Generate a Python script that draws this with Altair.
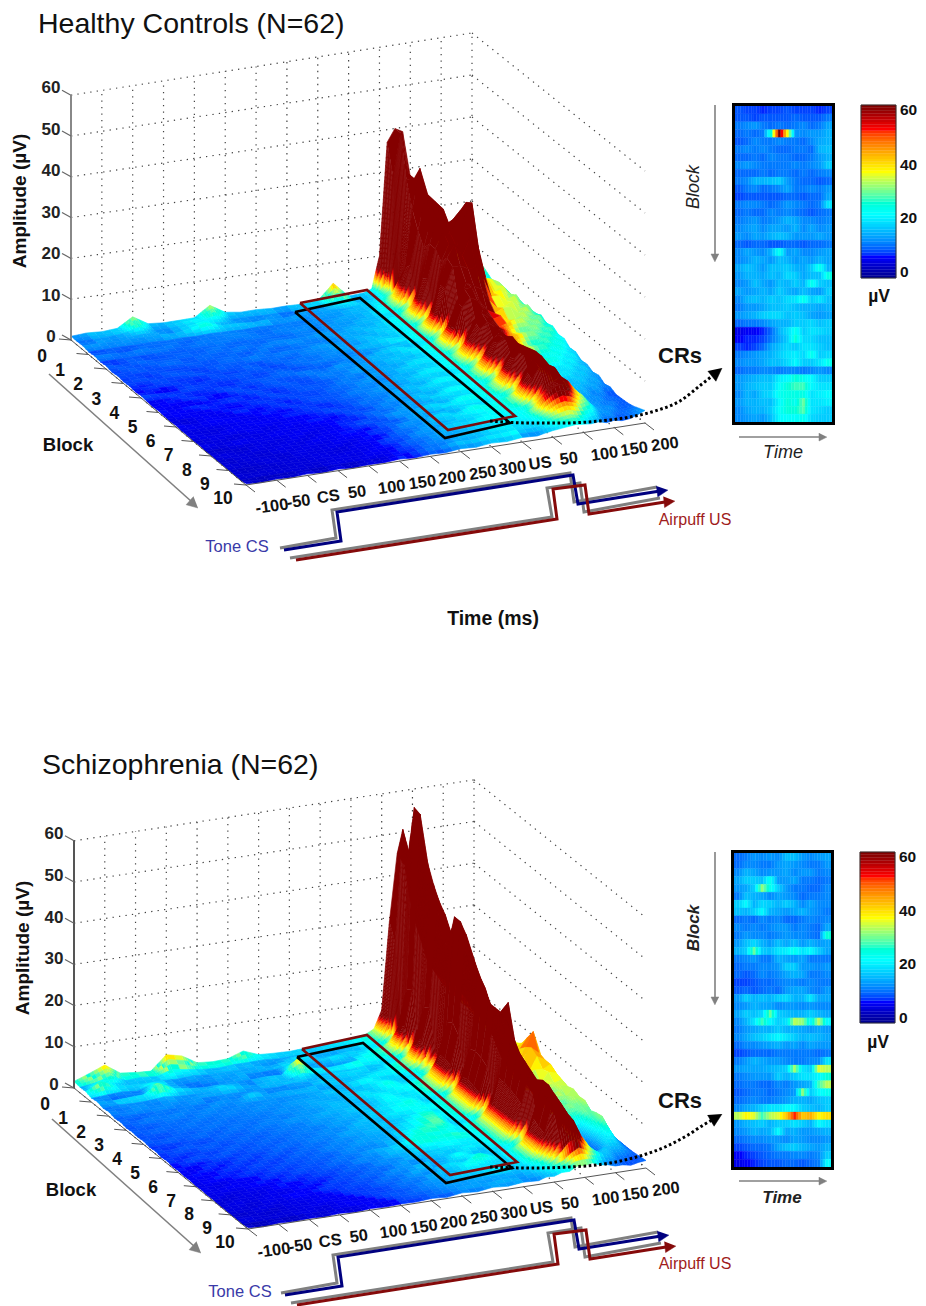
import math
import altair as alt
import pandas as pd

alt.data_transformers.disable_max_rows()

# ---------- values (amplitudes in tenths of a microvolt) ----------
TIME_IDX = [0,.5,1,1.5,2,2.5,3,3.5,4,4.5,5,5.5,6,6.5,7,7.5,8,8.5,9,9.5,9.75,10,10.25,10.5,10.75,11,11.25,11.5,11.75,12,12.25,12.5,12.75,13]
TIME_LABELS = ["-100","-50","CS","50","100","150","200","250","300","US","50","100","150","200"]
BLOCK_LABELS = [str(i) for i in range(11)]
AMP_LABELS = [0,10,20,30,40,50,60]

HC = [
[9,12,10,13,36,14,11,12,13,38,16,11,12,10,11,10,13,50, 14,17,24, 100,370,400,390,280,200,150,120,100,90,90,85,80],
[8,8,9,12,22,9,10,14,18,24,10,11,9,10,8,11,10,26, 13,15,20, 45,300,400,300,240,190,180,130,100,85,80,75,70],
[9,10,8,10,9,11,8,16,24,12,12,9,11,9,12,10,13,12, 16,19,24, 30,60,300,300,250,220,190,150,110,90,75,70,65],
[6,7,8,7,9,7,9,8,10,9,8,10,8,10,9,12,10,15, 14,22,32, 50,100,240,335,270,250,230,180,120,90,70,60,55],
[8,8,6,9,7,9,6,9,8,10,9,7,10,9,11,10,14,12, 17,24,36, 60,120,200,280,240,220,200,160,110,80,60,50,45],
[5,6,7,6,8,6,8,7,9,7,9,8,8,11,9,13,11,16, 15,19,24, 30,45,170,240,220,210,195,150,100,70,60,45,40],
[7,5,8,6,6,8,6,9,7,9,7,10,9,10,13,11,15,13, 18,24,36, 55,110,190,250,230,240,260,190,100,90,85,75,55],
[4,7,5,7,8,5,8,6,8,6,10,7,11,8,10,14,12,17, 16,26,38, 65,120,190,230,220,260,290,190,105,95,80,72,50],
[6,5,6,5,5,7,5,8,7,9,7,9,8,12,11,12,16,14, 19,21,26, 32,50,170,210,200,270,300,170,100,80,90,66,52],
[4,6,4,7,6,4,7,6,6,7,8,6,10,9,13,11,14,18, 16,26,40, 65,130,190,220,190,230,210,130,90,95,72,78,48],
[5,3,6,4,5,6,5,5,8,5,7,9,7,11,9,14,12,15, 20,25,42, 70,130,180,180,170,170,140,95,95,78,88,62,56],
[3,5,4,5,4,5,6,7,5,7,6,7,10,8,12,10,16,19, 15,20,27, 35,55,100,150,140,130,100,80,80,90,70,76,50],
[5,4,3,6,5,4,4,6,6,8,8,8,7,12,10,15,13,16, 21,27,42, 70,120,150,150,115,90,80,90,90,74,84,62,60],
[3,3,5,3,4,6,5,4,7,5,6,9,9,9,13,11,17,14, 17,26,42, 70,120,140,130,100,80,85,72,72,84,64,72,50],
[2,4,3,5,3,3,6,5,5,7,5,7,8,11,10,14,12,20, 20,22,27, 33,55,90,120,90,72,78,84,84,66,76,56,56],
[4,2,4,3,4,5,3,6,4,6,7,6,10,8,13,11,18,15, 17,26,40, 65,110,125,110,80,75,66,66,66,76,58,66,46],
[2,3,2,4,3,3,5,4,6,5,5,8,7,12,9,15,13,21, 21,25,38, 60,100,115,100,75,62,72,74,74,58,66,50,48],
[1,2,3,2,4,4,3,5,3,6,6,6,10,9,13,11,18,16, 16,20,25, 32,50,85,100,70,66,58,58,58,66,50,56,36],
[3,1,3,3,2,3,4,3,5,4,5,7,7,11,10,16,13,22, 22,25,36, 60,95,105,100,66,54,62,64,64,48,58,40,38],
[1,2,2,2,3,2,3,4,4,5,4,6,9,8,14,12,19,15, 17,26,38, 60,100,110,110,70,58,46,50,50,56,40,46,28],
[2,1,1,3,2,3,2,3,3,4,6,5,7,11,10,17,13,23, 23,21,24, 30,50,80,105,76,48,54,56,56,40,48,32,30],
[0,2,2,1,3,1,3,2,4,3,4,7,8,9,14,12,20,16, 18,25,34, 55,90,110,110,85,44,40,40,40,46,32,38,22],
[2,1,1,2,1,3,2,3,2,4,4,5,9,12,11,18,14,24, 24,26,36, 55,95,115,115,80,52,42,44,44,32,38,26,26],
[0,0,2,1,2,1,3,1,3,3,5,6,6,10,15,12,20,17, 18,22,24, 28,45,75,120,90,42,44,32,32,38,26,30,16],
[1,1,0,2,1,2,1,3,2,4,3,5,8,11,12,19,14,25, 22,26,32, 50,90,115,120,95,60,34,34,34,26,30,20,20],
[0,1,1,0,2,1,2,1,3,2,4,4,9,9,15,13,20,18, 24,24,30, 45,80,105,110,100,70,40,26,30,20,24,14,13],
[1,0,1,1,0,2,1,2,1,3,3,6,7,12,11,17,15,22, 20,22,22, 26,40,65,80,90,75,48,30,22,26,16,18,14],
[0,0,0,1,1,1,2,1,2,2,4,4,8,9,14,12,18,16, 22,21,25, 38,60,75,85,80,62,52,24,26,18,22,15,15],
[1,0,1,0,1,1,1,2,1,3,2,5,6,10,10,15,13,20, 18,20,20, 28,40,50,55,50,42,46,30,22,26,16,16,18],
[0,1,0,1,1,0,2,1,2,1,3,3,7,7,12,11,14,15, 18,16,18, 22,28,32,35,30,28,32,24,26,16,18,20,24],
[3,0,3,1,4,1,4,1,3,2,5,2,5,3,7,5,9,7, 11,9,13, 16,18,20,22,20,18,20,15,18,14,16,22,30],
]

SZ = [
[16,30,45,20,16,14,48,40,18,15,17,30,16,14,13,15,16,19, 20,28,38, 80,290,450,420,300,240,180,150,120,100,90,80,70],
[13,18,30,13,16,12,24,18,13,11,14,14,15,12,14,14,17,16, 20,26,36, 60,250,520,440,330,250,190,150,120,100,85,75,70],
[14,32,16,14,12,14,12,15,11,13,12,15,11,16,22,15,14,18, 16,19,24, 32,55,480,480,340,260,200,150,115,95,80,70,60],
[9,12,14,10,24,15,10,12,13,10,14,12,14,20,14,17,24,15, 22,30,42, 75,160,595,500,380,290,220,160,120,95,80,65,60],
[12,9,11,13,34,17,12,9,10,12,11,13,12,44,17,13,15,20, 24,32,45, 85,170,590,470,360,280,210,150,115,90,70,60,55],
[7,11,9,10,14,10,9,11,18,13,10,13,11,22,13,16,14,18, 16,19,24, 35,60,430,430,340,270,200,150,110,85,70,55,50],
[10,7,11,8,11,9,11,10,12,9,12,10,15,12,15,17,19,15, 20,30,42, 80,150,446,400,330,260,200,140,100,80,65,55,50],
[6,9,7,10,8,10,8,11,9,18,10,12,11,14,18,14,16,22, 22,32,45, 85,160,400,380,310,250,180,130,100,80,65,55,48],
[8,6,9,8,10,8,11,8,11,10,11,11,13,13,13,18,24,17, 16,20,25, 36,65,320,350,300,230,170,130,110,100,85,60,45],
[5,8,7,9,7,10,8,10,9,11,10,12,12,15,16,14,17,26, 16,21,28, 40,80,340,390,320,230,160,120,100,95,90,60,45],
[7,6,8,7,9,7,9,8,10,9,11,11,14,13,15,20,16,22, 21,32,46, 85,160,410,370,300,210,150,110,95,90,85,65,45],
[5,7,6,8,7,9,7,9,8,10,10,12,12,16,14,17,22,18, 22,33,46, 85,170,410,350,280,190,140,105,110,85,95,75,45],
[7,5,7,6,8,6,9,7,10,9,11,11,14,14,16,15,24,20, 20,32,45, 80,150,390,330,250,170,110,90,105,95,120,70,48],
[4,6,5,7,6,8,6,9,7,10,9,12,11,15,15,18,20,26, 16,20,25, 38,65,350,300,230,150,90,95,80,110,145,85,46],
[6,4,7,5,7,6,8,6,9,8,10,10,13,12,17,16,24,22, 20,30,43, 75,140,320,280,210,130,70,80,100,120,105,80,50],
[3,6,4,7,5,7,6,8,7,9,9,11,11,16,13,21,17,24, 20,31,44, 80,145,300,250,190,120,62,95,76,110,100,70,44],
[5,3,6,4,7,5,7,6,8,8,10,10,13,13,18,15,22,28, 21,30,42, 75,140,270,240,170,110,75,74,92,90,100,64,40],
[2,5,3,6,4,6,5,8,6,9,8,11,11,15,14,19,24,30, 19,30,42, 70,130,270,220,150,100,60,86,70,95,90,56,38],
[4,2,5,3,6,4,7,5,8,7,10,9,13,12,17,20,26,32, 16,19,24, 34,60,270,290,180,100,72,72,90,80,85,58,32],
[2,4,3,5,4,6,4,7,6,8,8,11,10,14,15,24,30,24, 19,29,40, 70,125,260,200,150,95,55,84,66,85,80,50,28],
[3,2,4,3,5,4,6,5,7,6,9,9,12,12,20,28,22,24, 20,29,40, 65,125,240,190,140,85,62,66,84,70,85,46,22],
[1,3,2,4,3,5,4,6,5,8,7,10,9,15,14,22,19,20, 18,28,38, 65,120,210,180,130,80,50,80,62,80,78,44,18],
[3,1,3,2,4,3,5,4,6,5,8,8,11,10,17,15,20,17, 19,27,38, 60,115,190,170,130,85,58,60,76,66,80,36,16],
[1,2,1,3,2,4,3,5,4,7,6,9,9,13,12,18,14,22, 17,26,36, 58,105,180,160,125,80,52,70,56,72,66,34,13],
[2,0,2,1,3,3,4,3,6,5,8,7,11,11,16,13,26,16, 16,19,22, 28,45,100,170,130,70,40,28,40,60,72,30,13],
[0,2,1,2,2,3,3,5,4,6,5,9,8,14,11,18,15,30, 17,24,34, 50,95,160,170,135,65,26,20,28,52,75,32,12],
[1,1,0,2,1,3,2,3,5,4,7,6,10,9,15,12,24,16, 15,22,32, 48,85,150,160,130,55,20,16,22,40,60,30,13],
[0,0,2,0,2,1,3,2,4,5,4,8,7,11,11,16,13,18, 15,21,30, 44,80,146,150,120,65,24,20,18,44,40,26,13],
[1,1,0,1,1,2,1,3,2,4,6,5,8,9,12,10,13,11, 14,17,22, 30,50,90,120,115,75,48,28,38,30,28,22,14],
[0,0,1,0,2,1,2,2,3,2,4,6,5,8,9,11,9,12, 10,15,16, 22,28,35,50,60,50,46,38,32,18,18,12,16],
[3,0,3,1,3,1,4,1,4,2,4,3,6,3,8,5,10,7, 11,9,15, 14,20,20,30,28,32,24,22,16,16,12,16,18],
]

HC_HEAT = [
[10,9,9,8,9,9,10,9,9,9,8,9],[10,10,9,10,10,10,10,11,10,10,10,12],[12,13,14,12,11,12,11,12,13,11,12,15],
[11,12,11,12,26,60,38,14,13,14,14,16],[10,11,13,12,12,13,12,12,11,13,15,16],[12,13,12,13,12,11,11,12,12,11,16,17],
[11,11,12,11,13,12,12,11,11,12,14,16],[13,14,13,12,12,12,12,13,12,13,14,18],[11,11,11,12,11,12,12,11,12,11,12,13],
[12,13,16,16,17,18,14,12,11,11,10,11],[10,12,13,11,12,13,15,12,12,13,12,14],[9,10,10,10,10,10,11,11,10,11,11,15],
[12,13,13,12,11,12,14,13,12,11,12,20],[11,12,11,11,13,12,13,12,11,10,11,12],[12,13,14,12,13,14,16,15,13,13,12,13],
[13,14,15,13,15,15,14,16,13,15,13,14],[14,13,15,14,16,17,16,14,14,14,15,14],[11,10,11,11,10,10,11,11,10,11,11,12],
[13,15,14,13,16,24,14,15,13,13,14,15],[13,14,16,15,14,17,16,14,15,14,16,15],[15,17,16,14,17,17,18,16,15,18,24,16],
[14,16,16,15,17,16,19,18,15,17,17,25],[13,14,17,15,14,17,16,18,16,24,18,17],[15,14,15,16,15,18,16,15,17,15,14,18],
[13,16,17,16,18,17,19,20,24,18,20,17],[12,14,14,15,17,17,18,17,16,16,15,16],[14,15,16,18,19,19,17,18,17,15,14,15],
[11,12,12,13,15,16,16,18,18,19,17,18],[6,7,7,8,11,16,19,24,18,20,19,18],[7,8,8,9,12,15,18,26,19,19,17,17],
[9,8,9,11,15,17,19,18,20,20,18,17],[12,13,14,15,16,18,20,21,19,24,18,19],[13,14,14,15,17,17,19,22,18,18,20,24],
[11,12,12,13,13,12,13,13,12,13,14,13],[14,15,16,17,17,21,22,26,24,22,18,18],[14,16,17,18,18,23,26,28,28,22,20,20],
[13,16,15,18,19,24,25,25,25,20,21,22],[14,16,16,17,17,22,26,24,30,20,20,21],[13,15,16,16,18,23,26,26,29,20,19,18],
[13,14,15,14,17,22,23,23,24,19,18,18],
]

SZ_HEAT = [
[11,12,14,13,14,13,17,17,14,13,14,15],[11,13,13,12,12,14,15,14,13,12,12,14],[13,16,15,13,14,14,15,13,14,14,12,13],
[15,18,18,17,24,14,14,15,12,12,11,12],[14,15,18,32,24,18,14,12,12,11,11,13],[12,17,16,15,13,15,14,13,11,12,12,13],
[18,22,16,19,18,16,18,16,13,15,13,13],[17,16,18,22,16,15,14,15,16,14,13,12],[11,12,11,13,12,13,11,11,12,13,12,13],
[13,12,13,12,13,14,14,12,13,12,11,15],[12,14,13,13,12,13,14,13,13,12,11,26],[14,17,19,16,14,17,15,17,14,16,14,15],
[16,18,30,18,17,20,21,24,20,22,18,15],[12,13,14,12,12,16,15,14,15,12,12,12],[11,12,12,13,13,14,18,18,14,14,13,14],
[11,10,11,13,12,13,15,16,15,12,12,13],[9,9,10,11,11,12,13,13,12,13,12,12],[10,11,10,11,12,11,14,15,15,13,12,14],
[14,18,16,17,16,18,19,16,16,20,15,15],[13,14,16,15,15,13,14,14,13,14,13,13],[15,18,17,19,30,18,17,16,16,18,16,15],
[13,16,20,28,22,18,20,34,32,22,34,22],[12,14,15,16,16,18,16,16,15,14,15,14],[13,15,17,18,20,22,20,18,16,17,16,15],
[11,13,13,14,15,16,14,15,13,15,14,14],[9,10,11,11,11,12,12,12,12,12,11,12],[12,14,16,15,14,14,13,12,12,13,13,20],
[14,15,15,15,16,17,18,33,20,18,36,34],[12,13,14,14,14,18,16,18,20,20,22,26],[11,12,12,11,11,13,12,14,15,16,28,34],
[10,11,12,12,11,12,13,14,32,18,22,24],[11,12,13,12,12,13,14,16,16,15,17,18],[13,15,16,18,20,20,22,22,18,17,16,18],
[34,38,36,28,34,36,42,52,42,44,38,40],[14,16,17,18,16,18,18,20,18,16,22,20],[13,14,16,15,16,22,15,16,14,14,15,16],
[11,12,13,13,14,14,13,15,14,13,13,14],[9,10,11,11,12,15,17,18,16,15,14,16],[7,8,9,10,11,12,12,13,13,12,13,18],
[6,7,8,9,10,10,11,11,10,11,12,22],
]

CBAR_VALUES = list(range(0, 61))
CBAR_LABELS = [60, 40, 20, 0]

# ---------- layout of the two panels ----------
SX = alt.Scale(domain=[8, 918], range=[0, 910])
SY = alt.Scale(domain=[8, 1306], range=[0, 1298])
JET = alt.Scale(domain=[0, 7.5, 22.5, 37.5, 52.5, 60, 62, 70],
                range=['#00008c', '#0000ff', '#00ffff', '#ffff00', '#ff0000', '#840000', '#840000', '#7f8a96'])
FONT = 'Liberation Sans'
XE = alt.X('x:Q', scale=SX, axis=None)
YE = alt.Y('y:Q', scale=SY, axis=None)

PANELS = [
    dict(name='HC', title='Healthy Controls (N=62)', tx=38, ty=24, z=HC, heat=HC_HEAT,
         BL=(71, 340), FL=(246, 485), FR=(645, 423), BR=(472, 285), zl=4.08, zr=4.2, axis='#888888',
         amp=(20, 201), block_lab=(68, 445), timelab=(493, 619), dx=0, dy=0,
         red=[(300, 303), (367, 290), (515, 416), (448, 430)], black=[(295, 312), (360, 298), (510, 423), (445, 438)],
         hm=(735, 832, 106, 422), cb=(861, 896, 105, 278), cbl=[110, 165, 218, 272], mu=(879, 297),
         blocktxt=(694, 187), barrow=(105, 262), time=(783, 453), tarrow=437, crs=(680, 356), bold_it=False,
         curve=[(490, 421), (530, 423), (563, 423), (600, 421), (630, 417), (655, 411), (680, 401), (702, 384), (716, 373)], tip=(722, 368),
         tone=(237, 547), air=(695, 520), arrow=(49, 374, 198, 508)),
    dict(name='SZ', title='Schizophrenia (N=62)', tx=42, ty=765, z=SZ, heat=SZ_HEAT,
         BL=(74, 1088), FL=(248, 1229), FR=(646, 1168), BR=(474, 1030), zl=4.12, zr=4.17, axis='#555555',
         amp=(23, 948), block_lab=(71, 1190), timelab=None, dx=1, dy=745,
         red=[(302, 1049), (367, 1035), (517, 1162), (450, 1175)], black=[(297, 1057), (363, 1043), (512, 1168), (446, 1183)],
         hm=(734, 831, 853, 1167), cb=(860, 895, 852, 1023), cbl=[857, 911, 964, 1018], mu=(878, 1043),
         blocktxt=(694, 928), barrow=(852, 1005), time=(782, 1198), tarrow=1181, crs=(680, 1101), bold_it=True,
         curve=[(490, 1167), (530, 1168), (570, 1167), (610, 1163), (640, 1156), (665, 1147), (688, 1135), (705, 1124), (716, 1118)], tip=(722, 1114),
         tone=(240, 1292), air=(695, 1264), arrow=(52, 1119, 201, 1253)),
]

# the CS and US traces of the first panel; the second panel repeats them lower down
BLUE_T = [(284, 550), (341, 541), (337, 512), (573, 475), (578, 504), (660, 491)]
BLUE_S = [(280, 548), (336, 538), (332, 510), (570, 473), (574, 502), (657, 487)]
RED_T = [(296, 560), (557, 519), (553, 489), (585, 485), (589, 514), (665, 502)]
RED_S = [(290, 558), (552, 517), (547, 488), (580, 483), (584, 512), (660, 498)]


def project(p, b, t, z=0.0):
    u, v = t / 13.0, b / 10.0
    x = (1-u)*(1-v)*p['BL'][0] + u*(1-v)*p['BR'][0] + (1-u)*v*p['FL'][0] + u*v*p['FR'][0]
    y = (1-u)*(1-v)*p['BL'][1] + u*(1-v)*p['BR'][1] + (1-u)*v*p['FL'][1] + u*v*p['FR'][1]
    return x, y - z * (p['zl'] + (p['zr'] - p['zl']) * u)


def colour_of(z, t):
    # the lumps behind the ridge are drawn paler than their height, as in the figure
    k = 1.0 if t <= 11 else (0.45 if t >= 11.75 else 1.0 - 0.55 * (t - 11) / 0.75)
    return max(0.0, min(60.0, (z * k + 0.55) / 7.3 * 60.0))


def surface_rows(p, start):
    """One filled polygon per facet, painted from the back corner to the front."""
    rows = []
    pid = start
    Z = [[v / 10.0 for v in (r + r[-1:] * 34)[:len(TIME_IDX)]] for r in p['z']]
    nr, nc = len(Z), len(TIME_IDX)
    for r in range(nr - 1):
        b0, b1 = r / 3.0, (r + 1) / 3.0
        for c in range(nc - 2, -1, -1):
            t0, t1 = TIME_IDX[c], TIME_IDX[c + 1]
            z00, z01, z10, z11 = Z[r][c], Z[r][c + 1], Z[r + 1][c], Z[r + 1][c + 1]
            def steps(a, d, cap):
                if min(a, d) < 7:
                    return max(2, min(cap, math.ceil(abs(a - d) / 0.4)))
                return 1
            nu = max(steps(z00, z01, 30), steps(z10, z11, 30))
            nv = max(steps(z00, z10, 3), steps(z01, z11, 3))
            # streak shading: the slope between this row and the next, averaged along the floor
            lo, hi = max(0, c - 3), min(18, c + 4)
            streak = 0.0
            if hi > lo:
                streak = (sum(Z[r][lo:hi]) - sum(Z[r + 1][lo:hi])) / (hi - lo)
            for j in range(nv):
                for i in range(nu - 1, -1, -1):
                    def zat(iu, jv):
                        a, e = iu / nu, jv / nv
                        return ((1-a)*(1-e)*z00 + a*(1-e)*z01 + (1-a)*e*z10 + a*e*z11)
                    def pos(iu, jv):
                        a, e = iu / nu, jv / nv
                        return project(p, b0 + (b1 - b0)*e, t0 + (t1 - t0)*a, zat(iu, jv))
                    zm = (zat(i, j) + zat(i+1, j) + zat(i, j+1) + zat(i+1, j+1)) / 4
                    drop = (zat(i, j) + zat(i+1, j) - zat(i, j+1) - zat(i+1, j+1)) / 2
                    tm = t0 + (t1 - t0) * (i + .5) / nu
                    col = colour_of(zm, tm)
                    if zm < 2.5 and tm < 9:
                        col = max(0.0, col + 9.0 * streak)
                    if zm > 8 and drop * nv > 26 and tm < 11:
                        col = 60 + min(6.0, (drop * nv - 26) / 1.5)
                    for o, (iu, jv) in enumerate([(i, j), (i+1, j), (i+1, j+1), (i, j+1)]):
                        x, y = pos(iu, jv)
                        rows.append(dict(x=round(x, 1), y=round(y, 1), i=pid, o=o, c=round(col, 1)))
                    pid += 1
    return rows, pid


def paths(plist):
    rows = []
    for i, pl in enumerate(plist):
        for o, (x, y) in enumerate(pl):
            rows.append(dict(x=x, y=y, i=i, o=o))
    return pd.DataFrame(rows)


def lines(plist, color, width, dash=None, interp=None):
    kw = dict(color=color, strokeWidth=width, strokeCap='butt', strokeJoin='miter')
    if dash:
        kw['strokeDash'] = dash
    if interp:
        kw['interpolate'] = interp
    return alt.Chart(paths(plist)).mark_line(**kw).encode(x=XE, y=YE, detail='i:N', order='o:Q')


def solid(plist, color):
    return alt.Chart(paths(plist)).mark_line(filled=True, color=color, stroke=color, strokeWidth=.5).encode(x=XE, y=YE, detail='i:N', order='o:Q')


def text(items, size, color='#000000', weight='normal', style='normal', angle=0, align='center'):
    df = pd.DataFrame([dict(x=x, y=y, s=s) for x, y, s in items])
    return alt.Chart(df).mark_text(font=FONT, fontSize=size, color=color, fontWeight=weight, fontStyle=style,
                                   angle=angle, align=align, baseline='middle').encode(x=XE, y=YE, text='s:N')


def head(tip, frm, size, color):
    ax, ay = tip[0]-frm[0], tip[1]-frm[1]
    n = math.hypot(ax, ay)
    ax, ay = ax/n, ay/n
    bx, by = tip[0]-ax*size, tip[1]-ay*size
    return solid([[tip, (bx-ay*size*.5, by+ax*size*.5), (bx+ay*size*.5, by-ax*size*.5)]], color)


layers = []
pid = 0
for k, p in enumerate(PANELS):
    P = lambda b, t, z=0.0, P_=p: project(P_, b, t, z)
    # dotted walls
    wall = []
    for t in range(14):
        wall.append([P(0, t, 0), P(0, t, 60)])
    for t in range(14):
        wall.append([P(0, t, 0), P(10, t, 0)])
    for z in AMP_LABELS[1:]:
        wall.append([P(0, 0, z), P(0, 13, z)])
    for z in AMP_LABELS:
        wall.append([P(0, 13, z), P(10, 13, z)])
    layers.append(lines(wall, '#444444', 1.2, dash=[1.3, 5.2]))
    # surface
    rows, pid = surface_rows(p, pid)
    sdf = pd.DataFrame(rows)
    layers.append(alt.Chart(sdf).mark_line(filled=True, strokeWidth=.6).encode(
        x=XE, y=YE,
        fill=alt.Fill('c:Q', scale=JET, legend=None),
        stroke=alt.Stroke('c:Q', scale=JET, legend=None),
        detail='i:N', order='o:Q'))
    # axes
    layers.append(lines([[P(0, 0, 0), P(0, 0, 60)]], p['axis'], 2))
    ztk = []
    for z in AMP_LABELS:
        x, y = P(0, 0, z)
        ztk.append([(x-9, y-5), (x, y)])
    layers.append(lines(ztk, '#666666', 1.2))
    floor_lines = [[P(0, 0), P(10, 0)], [P(10, 0), P(10, 13)]]
    for b in range(11):
        x, y = P(b, 0)
        floor_lines.append([(x-12, y-1), (x, y)])
    for t in range(14):
        x, y = P(10, t)
        floor_lines.append([(x, y), (x+9, y+7)])
    layers.append(lines(floor_lines, '#555555', 1))
    a = p['arrow']
    layers.append(lines([[(a[0], a[1]), (a[2]-6, a[3]-6)]], '#808080', 1.6))
    layers.append(head((a[2], a[3]), (a[0], a[1]), 11, '#808080'))
    # tick labels
    layers.append(text([(P(0, 0, z)[0]-20, P(0, 0, z)[1]-3-z/15, str(z)) for z in AMP_LABELS], 17, '#222222', 'bold'))
    layers.append(text([(P(b, 0)[0]-29+.6*b, P(b, 0)[1]+17-.3*b, BLOCK_LABELS[b]) for b in range(11)], 17.5, '#111111', 'bold'))
    nudge = [5, 1, 0, -2, 2, 2, 1, 1, 0, -3, -5, 0, -1, -1]
    layers.append(text([(P(10, t)[0]+21+nudge[t], P(10, t)[1]+21.5, TIME_LABELS[t]) for t in range(14)], 16.5, '#111111', 'bold', angle=352))
    layers.append(text([(p['amp'][0], p['amp'][1], 'Amplitude (µV)')], 19, '#111111', 'bold', angle=270))
    layers.append(text([(p['block_lab'][0], p['block_lab'][1], 'Block')], 18.5, '#111111', 'bold'))
    if p['timelab']:
        layers.append(text([(p['timelab'][0], p['timelab'][1], 'Time (ms)')], 19.5, '#111111', 'bold'))
    layers.append(text([(p['tx'], p['ty'], p['title'])], 28.5, '#111111', align='left'))
    # CR window boxes
    layers.append(lines([p['black'] + p['black'][:1]], '#000000', 2.6))
    layers.append(lines([p['red'] + p['red'][:1]], '#7a0c0c', 2.6))
    # dotted arrow
    layers.append(lines([p['curve']], '#000000', 3, dash=[2.6, 2.6], interp='monotone'))
    layers.append(head(p['tip'], p['curve'][-2], 13, '#000000'))
    layers.append(text([(p['crs'][0], p['crs'][1], 'CRs')], 22, '#111111', 'bold'))
    # CS / US traces
    sh = lambda pts: [(x + p['dx'], y + p['dy']) for x, y in pts]
    layers.append(lines([sh(BLUE_S), sh(RED_S)], '#808080', 3))
    layers.append(lines([sh(BLUE_T)], '#00007f', 3))
    layers.append(lines([sh(RED_T)], '#850a0a', 3))
    layers.append(head(sh([(668, 490)])[0], sh(BLUE_T)[-1], 11, '#00007f'))
    layers.append(head(sh([(675, 501)])[0], sh(RED_T)[-1], 11, '#850a0a'))
    layers.append(text([(p['tone'][0], p['tone'][1], 'Tone CS')], 16.5, '#3a3aa8'))
    layers.append(text([(p['air'][0], p['air'][1], 'Airpuff US')], 16, '#a01c1c'))
    # heat map: colour shaded along each row, rows stay sharp as in the original
    x0, x1, y0, y1 = p['hm']
    H = p['heat']
    nrow, ncol = len(H), len(H[0])
    SUBC = 3
    cells = []
    for r in range(nrow):
        for c in range(ncol):
            for sc in range(SUBC):
                fc = c + (sc + .5) / SUBC - .5
                c0 = max(0, min(ncol - 1, math.floor(fc)))
                c1 = min(ncol - 1, c0 + 1)
                ec = max(0.0, min(1.0, fc - c0))
                v = (1-ec)*H[r][c0] + ec*H[r][c1]
                cells.append(dict(x=round(x0+(x1-x0)*(c+sc/SUBC)/ncol, 1), x2=round(x0+(x1-x0)*(c+(sc+1)/SUBC)/ncol, 1),
                                  y=round(y0+(y1-y0)*r/nrow, 1), y2=round(y0+(y1-y0)*(r+1)/nrow, 1), c=round(v, 1)))
    rect_enc = dict(x=XE, y=YE, x2='x2:Q', y2='y2:Q', fill=alt.Fill('c:Q', scale=JET, legend=None),
                    stroke=alt.Stroke('c:Q', scale=JET, legend=None))
    layers.append(alt.Chart(pd.DataFrame(cells)).mark_rect(strokeWidth=.3).encode(**rect_enc))
    frame = pd.DataFrame([dict(x=x0-1.5, x2=x1+1.5, y=y0-1.5, y2=y1+1.5)])
    layers.append(alt.Chart(frame).mark_rect(fillOpacity=0, stroke='#000000', strokeWidth=3).encode(x=XE, y=YE, x2='x2:Q', y2='y2:Q'))
    # colour bar
    cx0, cx1, cy0, cy1 = p['cb']
    bar = [dict(x=cx0, x2=cx1, y=cy1-(cy1-cy0)*(v+1)/61, y2=cy1-(cy1-cy0)*v/61, c=v+.5) for v in CBAR_VALUES]
    layers.append(alt.Chart(pd.DataFrame(bar)).mark_rect(strokeWidth=.3).encode(**rect_enc))
    frame = pd.DataFrame([dict(x=cx0, x2=cx1, y=cy0, y2=cy1)])
    layers.append(alt.Chart(frame).mark_rect(fillOpacity=0, stroke='#333333', strokeWidth=1).encode(x=XE, y=YE, x2='x2:Q', y2='y2:Q'))
    layers.append(text([(cx1+4, yy, str(v)) for yy, v in zip(p['cbl'], CBAR_LABELS)], 15.5, '#111111', 'bold', align='left'))
    layers.append(text([(p['mu'][0], p['mu'][1], 'µV')], 17.5, '#111111', 'bold'))
    # little arrows
    ay0, ay1 = p['barrow']
    layers.append(lines([[(715, ay0), (715, ay1-6)], [(739, p['tarrow']), (820, p['tarrow'])]], '#808080', 1.6))
    layers.append(head((715, ay1), (715, ay0), 8, '#808080'))
    layers.append(head((827, p['tarrow']), (739, p['tarrow']), 8, '#808080'))
    st = 'italic'
    wt = 'bold' if p['bold_it'] else 'normal'
    layers.append(text([(p['blocktxt'][0], p['blocktxt'][1], 'Block')], 18 if not p['bold_it'] else 17, '#222222', wt, st, angle=270))
    layers.append(text([(p['time'][0], p['time'][1], 'Time')], 18 if not p['bold_it'] else 17, '#222222', wt, st))

chart = alt.layer(*layers).properties(width=910, height=1298, padding=0,
                                      autosize=alt.AutoSizeParams(type='none')).configure_view(stroke=None)
chart.save("out.html", embed_options={"renderer": "svg", "actions": False})
